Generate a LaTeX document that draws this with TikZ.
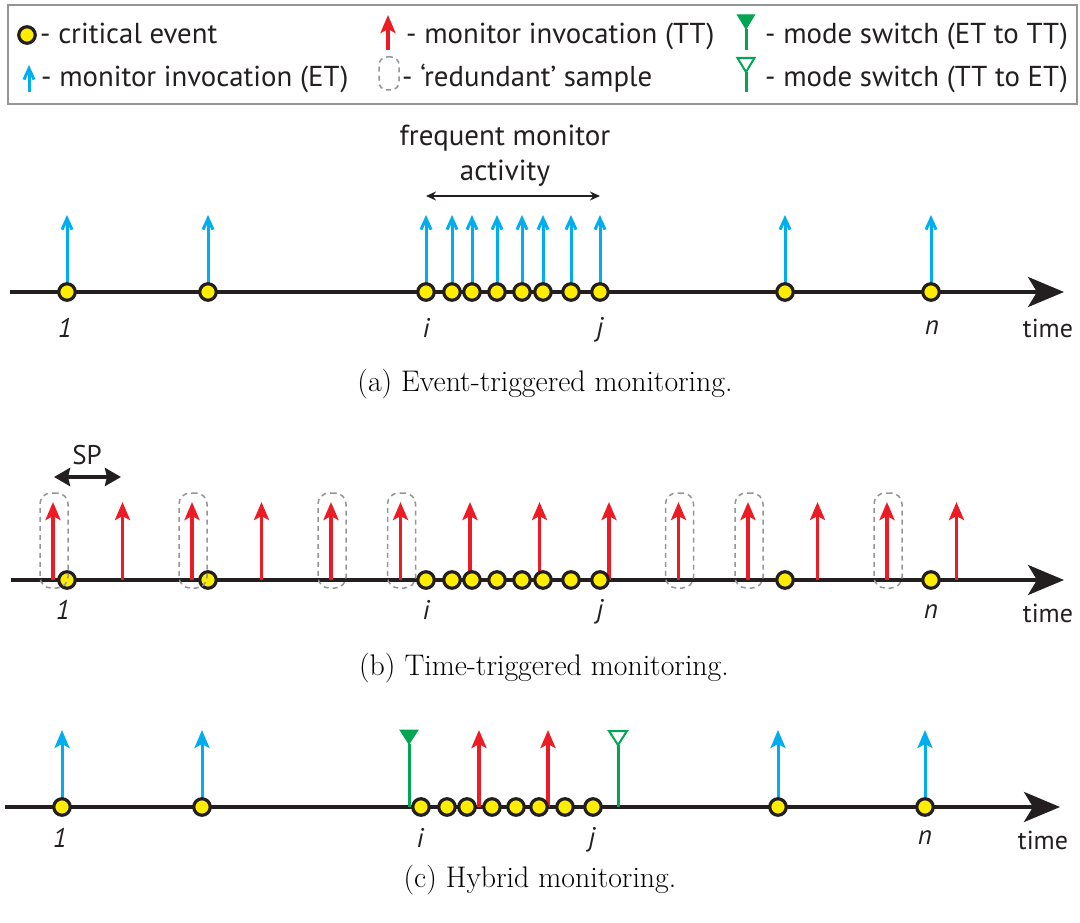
\documentclass[tikz,border=0pt]{standalone}
\usepackage{fontspec}
\setsansfont{PT Sans}
\usetikzlibrary{arrows.meta}
\definecolor{evyellow}{RGB}{255,237,0}
\definecolor{etblue}{RGB}{0,174,239}
\definecolor{ttred}{RGB}{237,28,36}
\definecolor{swgreen}{RGB}{0,166,81}
\definecolor{boxgray}{RGB}{147,149,152}
\definecolor{ink}{RGB}{35,31,32}
\begin{document}
\begin{tikzpicture}[x=1pt,y=-1pt,
  event/.style={circle, fill=evyellow, draw=ink, line width=3.2pt, inner sep=0pt, minimum size=16.5pt},
  timeline/.style={draw=ink, line width=4pt, -{Stealth[length=36pt,width=30pt,inset=9pt]}},
  etbarb/.style={draw=etblue, line width=3pt, -{Straight Barb[length=11pt,width=10pt]}},
  etstealth/.style={draw=etblue, line width=3pt, -{Stealth[length=18pt,width=15pt,inset=4pt]}},
  ttarrow/.style={draw=ttred, line width=3.5pt, -{Stealth[length=18pt,width=15pt,inset=4pt]}},
  redundant/.style={draw=boxgray, line width=1.5pt, dash pattern=on 5pt off 4pt, rounded corners=11pt},
  swstem/.style={draw=swgreen, line width=3pt},
  swfull/.style={draw=swgreen, fill=swgreen, line width=1pt, line join=miter},
  swopen/.style={draw=swgreen, fill=white, line width=2pt, line join=miter},
  span/.style={draw=ink, line width=1.5pt, {Stealth[length=10pt,width=9pt]}-{Stealth[length=10pt,width=9pt]}},
  sparrow/.style={draw=ink, line width=4pt, {Stealth[length=16pt,width=18pt,inset=2pt]}-{Stealth[length=16pt,width=18pt,inset=2pt]}},
  legtext/.style={anchor=base west, inner sep=0pt, font=\sffamily\fontsize{28.8}{34}\selectfont, text=ink},
  idx/.style={inner sep=0pt, font=\sffamily\itshape\fontsize{27}{32}\selectfont, text=ink},
  timelbl/.style={inner sep=0pt, font=\sffamily\fontsize{26}{32}\selectfont, text=ink},
  note/.style={inner sep=0pt, align=center, font=\sffamily\fontsize{29}{35}\selectfont, text=ink},
  caption/.style={inner sep=0pt, font=\rmfamily\fontsize{29.8}{35}\selectfont, text=black}
]
\useasboundingbox (0,0) rectangle (1080,923);

% ---------------- legend ----------------
\node[draw=boxgray, line width=2pt, fill=white, inner sep=0pt, minimum width=1069pt, minimum height=99pt, anchor=north west] (legend) at (7,4) {};
\node[event] (lgev) at (27,35) {};
\node[legtext] (lgevt) at (40,44) {- critical event};
\coordinate (lgblo) at (29,92); \coordinate (lgbhi) at (29,65);
\draw[etbarb] (lgblo) -- (lgbhi);
\node[legtext] (lgbt) at (41,87) {- monitor invocation (ET)};
\coordinate (lgrlo) at (388,50); \coordinate (lgrhi) at (388,15);
\draw[ttarrow] (lgrlo) -- (lgrhi);
\node[legtext] (lgrt) at (406,44) {- monitor invocation (TT)};
\node[redundant, rounded corners=8pt, minimum width=20pt, minimum height=33pt, inner sep=0pt] (lgbox) at (389,73.5) {};
\node[legtext] (lgboxt) at (402,87) {- `redundant' sample};
\coordinate (lgg1lo) at (746,50); \coordinate (lgg1hi) at (746,29);
\draw[swstem] (lgg1lo) -- (lgg1hi);
\draw[swfull] (lgg1hi) -- ++(-8.5,-14) -- ++(17,0) -- cycle;
\node[legtext] (lgg1t) at (765,44) {- mode switch (ET to TT)};
\coordinate (lgg2lo) at (746,92); \coordinate (lgg2hi) at (746,72);
\draw[swstem] (lgg2lo) -- (lgg2hi);
\draw[swopen] (lgg2hi) -- ++(-8.5,-14) -- ++(17,0) -- cycle;
\node[legtext] (lgg2t) at (765,87) {- mode switch (TT to ET)};

% ---------------- (a) event-triggered ----------------
\coordinate (aL) at (10,292); \coordinate (aR) at (1064,292);
\draw[timeline] (aL) -- (aR);
\foreach \x [count=\k] in {67,208,426,452,472,497,522,543,571,600,785,931} {
  \coordinate (ab\k) at (\x,292); \coordinate (at\k) at (\x,215);
  \draw[etbarb] (ab\k) -- (at\k);
}
\foreach \x [count=\k] in {67,208,426,452,472,497,522,543,571,600,785,931}
  \node[event] (a\k) at (\x,292) {};
\coordinate (fmL) at (426,196); \coordinate (fmR) at (600,196);
\draw[span] (fmL) -- (fmR);
\node[note] (fmtext) at (505,156) {frequent monitor\\activity};
\node[idx] (a1l) at (65,328) {1};
\node[idx] (a3l) at (426,328) {i};
\node[idx] (a10l) at (600,330) {j};
\node[idx] (a12l) at (932,328) {n};
\node[timelbl] (atime) at (1048,328) {time};
\node[caption] (capa) at (545,384) {(a) Event-triggered monitoring.};

% ---------------- (b) time-triggered ----------------
\coordinate (bL) at (11,580); \coordinate (bR) at (1064,580);
\draw[timeline] (bL) -- (bR);
\foreach \k in {0,...,13} {
  \coordinate (rb\k) at ({53+69.5*\k},580); \coordinate (rt\k) at ({53+69.5*\k},502);
  \draw[ttarrow] (rb\k) -- (rt\k);
}
\foreach \x [count=\k] in {67,208,426,452,472,497,522,543,571,600,785,931}
  \node[event] (b\k) at (\x,580) {};
\foreach \k in {0,2,4,5,9,10,12}
  \node[redundant, minimum width=28pt, minimum height=95pt, inner sep=0pt] (rd\k) at ({54+69.5*\k},540.5) {};
\coordinate (spL) at (54,477); \coordinate (spR) at (121,477);
\draw[sparrow] (spL) -- (spR);
\node[timelbl, font=\sffamily\fontsize{27}{32}\selectfont] (sp) at (87,455) {SP};
\node[idx] (b1l) at (63,610) {1};
\node[idx] (b3l) at (426,610) {i};
\node[idx] (b10l) at (600,612) {j};
\node[idx] (b12l) at (931,612) {n};
\node[timelbl] (btime) at (1048,613) {time};
\node[caption] (capb) at (544,668) {(b) Time-triggered monitoring.};

% ---------------- (c) hybrid ----------------
\coordinate (cL) at (5,807); \coordinate (cR) at (1060,807);
\draw[timeline] (cL) -- (cR);
\foreach \x [count=\k] in {62,202,778,925} {
  \coordinate (cb\k) at (\x,807); \coordinate (ct\k) at (\x,730);
  \draw[etstealth] (cb\k) -- (ct\k);
}
\foreach \x [count=\k] in {479,548} {
  \coordinate (crb\k) at (\x,807); \coordinate (crt\k) at (\x,730);
  \draw[ttarrow] (crb\k) -- (crt\k);
}
\coordinate (sw1b) at (409,807); \coordinate (sw1t) at (409,744);
\draw[swstem] (sw1b) -- (sw1t);
\draw[swfull] (sw1t) -- ++(-9,-14) -- ++(18,0) -- cycle;
\coordinate (sw2b) at (618,807); \coordinate (sw2t) at (618,745);
\draw[swstem] (sw2b) -- (sw2t);
\draw[swopen] (sw2t) -- ++(-9,-14) -- ++(18,0) -- cycle;
\foreach \x [count=\k] in {62,202,421,447,467,492,516,539,565,593,778,925}
  \node[event] (c\k) at (\x,807) {};
\node[idx] (c1l) at (60,838) {1};
\node[idx] (c3l) at (420,838) {i};
\node[idx] (c10l) at (592,840) {j};
\node[idx] (c12l) at (925,838) {n};
\node[timelbl] (ctime) at (1043,840) {time};
\node[caption] (capc) at (540,880) {(c) Hybrid monitoring.};
\end{tikzpicture}
\end{document}
